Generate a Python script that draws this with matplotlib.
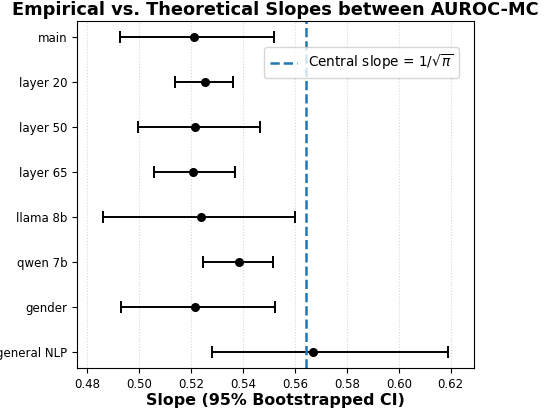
import numpy as np
import matplotlib
matplotlib.use("Agg")
import matplotlib.pyplot as plt

names = ['main', 'layer 20', 'layer 50', 'layer 65', 'llama 8b', 'qwen 7b', 'gender', 'general NLP']
slope = [0.5212, 0.5255, 0.5214, 0.5206, 0.5237, 0.5383, 0.5214, 0.5671]
ci_lo = [0.4927, 0.5138, 0.4997, 0.5056, 0.4862, 0.5245, 0.4929, 0.5281]
ci_hi = [0.5520, 0.5363, 0.5466, 0.5370, 0.5602, 0.5516, 0.5522, 0.6191]

central = 1 / np.sqrt(np.pi)

fig = plt.figure(figsize=(5.48, 4.12), dpi=100)
ax = fig.add_axes([77 / 548, 1 - 368 / 412, 397 / 548, 347 / 412])

ys = np.arange(len(names))
slope = np.array(slope)
err = [slope - np.array(ci_lo), np.array(ci_hi) - slope]
ax.errorbar(slope, ys, xerr=err, fmt='o', color='black', ecolor='black',
            markersize=5.5, capsize=4, elinewidth=1.4, capthick=1.4)
ax.axvline(central, color='#1f77b4', linestyle='--', linewidth=1.8,
           label=r'Central slope = $1/\sqrt{\pi}$')

ax.set_yticks(ys)
ax.set_yticklabels(names)
ax.invert_yaxis()
ax.set_xlim(0.476, 0.629)
ax.set_xticks(np.arange(0.48, 0.621, 0.02))
ax.tick_params(labelsize=8.5)
ax.grid(axis='x', linestyle=':', alpha=0.5)

ax.set_xlabel('Slope (95% Bootstrapped CI)', fontsize=11.4, fontweight='bold', labelpad=2)
ax.set_title('Empirical vs. Theoretical Slopes between AUROC-MC', fontsize=12.8, fontweight='bold', pad=4)
ax.legend(loc='upper right', fontsize=9.8, borderaxespad=0,
          bbox_to_anchor=(0.962, 0.925))

fig.savefig('out.png', dpi=100)
